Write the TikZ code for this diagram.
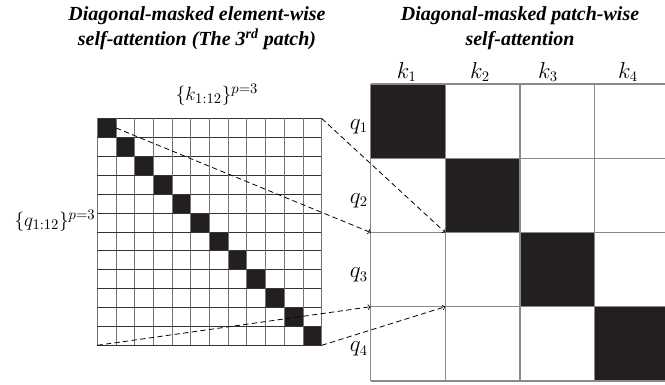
\documentclass[tikz,border=0pt]{standalone}
\usepackage{fontspec}
\setmainfont{Liberation Serif}
\usetikzlibrary{positioning, arrows}

\definecolor{cellblack}{HTML}{231F20}
\definecolor{gridgray}{HTML}{8A8A8A}

\begin{document}
\begin{tikzpicture}[x=0.75pt, y=-0.75pt,
  smallcell/.style={minimum width=14.03pt, minimum height=14.18pt, inner sep=0pt, outer sep=0pt},
  bigcell/.style={minimum width=55.95pt, minimum height=55.7pt, inner sep=0pt, outer sep=0pt},
  dasharrow/.style={->, dashed, dash pattern=on 4pt off 2.5pt, line width=0.6pt},
  headline/.style={font=\bfseries\itshape\fontsize{15}{18.75}\selectfont, align=center},
  mathlabel/.style={font=\fontsize{16}{18}\selectfont, inner sep=1pt},
  setlabel/.style={font=\fontsize{15}{17}\selectfont, inner sep=1pt}]
\useasboundingbox (0,0) rectangle (665,385);

% Titles
\node[headline] (titleL) at (197,28) {Diagonal-masked element-wise\\self-attention (The 3\textsuperscript{rd} patch)};
\node[headline] (titleR) at (520,28) {Diagonal-masked patch-wise\\self-attention};

% Element-wise grid (12 x 12)
\foreach \i in {1,...,12}
  \foreach \j in {1,...,12} {
    \ifnum\i=\j
      \node[smallcell, fill=cellblack] (e-\i-\j) at ({97.3+(\j-0.5)*18.7},{118.5+(\i-0.5)*18.9}) {};
    \else
      \node[smallcell] (e-\i-\j) at ({97.3+(\j-0.5)*18.7},{118.5+(\i-0.5)*18.9}) {};
    \fi
  }
\foreach \k in {0,...,12} {
  \draw[black!80, line width=0.6pt] (97.3,{118.5+\k*18.9}) -- (321.7,{118.5+\k*18.9});
  \draw[black!55, line width=0.7pt] ({97.3+\k*18.7},118.5) -- ({97.3+\k*18.7},345.3);
}

% Patch-wise grid (4 x 4)
\foreach \i in {1,...,4}
  \foreach \j in {1,...,4} {
    \ifnum\i=\j
      \node[bigcell, fill=cellblack] (r-\i-\j) at ({370.7+(\j-0.5)*74.6},{84+(\i-0.5)*74.25}) {};
    \else
      \node[bigcell] (r-\i-\j) at ({370.7+(\j-0.5)*74.6},{84+(\i-0.5)*74.25}) {};
    \fi
  }
\foreach \k in {0,...,4} {
  \draw[gridgray, line width=0.9pt] (370.7,{84+\k*74.25}) -- (669.1,{84+\k*74.25});
  \draw[gridgray, line width=0.9pt] ({370.7+\k*74.6},84) -- ({370.7+\k*74.6},381);
}

% Labels
\node[setlabel] (kset) at (217,95) {$\{k_{1:12}\}^{p=3}$};
\node[setlabel, anchor=east] (qset) at (97,221) {$\{q_{1:12}\}^{p=3}$};
\foreach \j/\x in {1/406.7, 2/480, 3/548, 4/628}
  \node[mathlabel] (k\j) at (\x,72) {$k_{\j}$};
\foreach \i in {1,...,4}
  \node[mathlabel, left=1pt of r-\i-1.west, yshift=-4pt] (q\i) {$q_{\i}$};

% Connectors
\draw[dasharrow] (e-1-1.east) -- (r-3-1.north west);
\draw[dasharrow] (e-1-12.north east) -- (r-2-2.south west);
\draw[dasharrow] (e-12-1.south west) -- (r-4-1.north west);
\draw[dasharrow] (e-12-12.south east) -- (r-4-2.north west);
\end{tikzpicture}
\end{document}
